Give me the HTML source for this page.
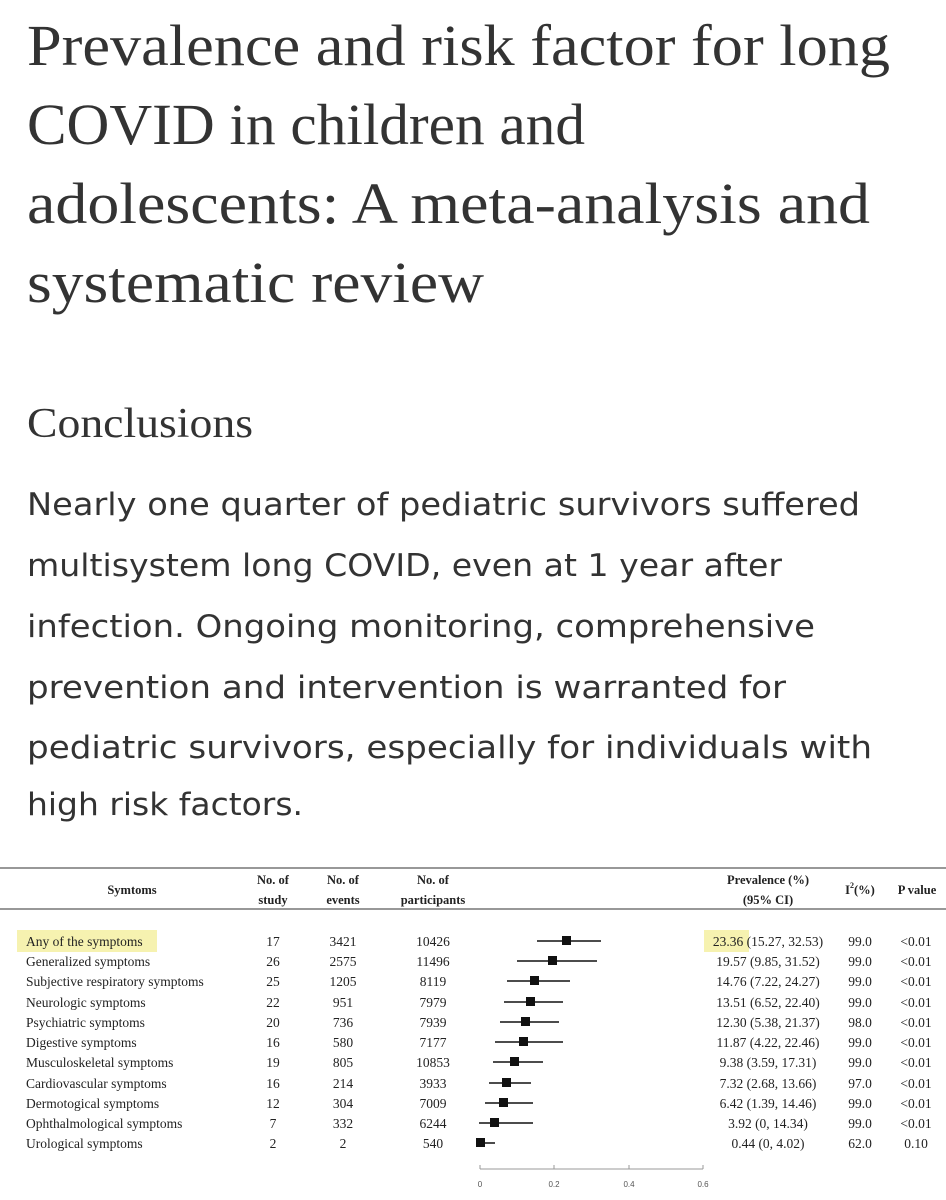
<!DOCTYPE html>
<html><head><meta charset="utf-8"><style>
html,body{margin:0;padding:0;background:#fff;}
svg{display:block;}
.t{font-family:"Liberation Serif","DejaVu Serif",serif;fill:#333;}
.p{font-family:"DejaVu Sans","Liberation Sans",sans-serif;fill:#333;}
.tb{font-family:"Liberation Serif",serif;font-size:13.5px;fill:#222;}
.h{font-family:"Liberation Serif",serif;font-size:12.5px;font-weight:bold;fill:#222;}
</style></head><body>
<svg width="946" height="1200" viewBox="0 0 946 1200" xmlns="http://www.w3.org/2000/svg">
<g class="t" font-size="58">
<text x="27" y="65" textLength="863" lengthAdjust="spacingAndGlyphs">Prevalence and risk factor for long</text>
<text x="27" y="144" textLength="558" lengthAdjust="spacingAndGlyphs">COVID in children and</text>
<text x="27" y="223" textLength="843" lengthAdjust="spacingAndGlyphs">adolescents: A meta-analysis and</text>
<text x="27" y="302" textLength="457" lengthAdjust="spacingAndGlyphs">systematic review</text>
<text x="27" y="437" font-size="42" textLength="226" lengthAdjust="spacingAndGlyphs">Conclusions</text>
</g>
<g class="p" font-size="31">
<text x="27" y="515" textLength="833" lengthAdjust="spacingAndGlyphs">Nearly one quarter of pediatric survivors suffered</text>
<text x="27" y="576" textLength="755" lengthAdjust="spacingAndGlyphs">multisystem long COVID, even at 1 year after</text>
<text x="27" y="637" textLength="788" lengthAdjust="spacingAndGlyphs">infection. Ongoing monitoring, comprehensive</text>
<text x="27" y="698" textLength="759" lengthAdjust="spacingAndGlyphs">prevention and intervention is warranted for</text>
<text x="27" y="758" textLength="845" lengthAdjust="spacingAndGlyphs">pediatric survivors, especially for individuals with</text>
<text x="27" y="815" textLength="276" lengthAdjust="spacingAndGlyphs">high risk factors.</text>
</g>
<line x1="0" y1="868" x2="946" y2="868" stroke="#777" stroke-width="1.5"/>
<line x1="0" y1="909" x2="946" y2="909" stroke="#777" stroke-width="1.5"/>
<g class="h" text-anchor="middle">
<text x="132" y="894">Symtoms</text>
<text x="273" y="884">No. of</text><text x="273" y="904">study</text>
<text x="343" y="884">No. of</text><text x="343" y="904">events</text>
<text x="433" y="884">No. of</text><text x="433" y="904">participants</text>
<text x="768" y="884">Prevalence (%)</text><text x="768" y="904">(95% CI)</text>
<text x="860" y="894">I<tspan font-size="8" dy="-6">2</tspan><tspan dy="6">(%)</tspan></text>
<text x="917" y="894">P value</text>
</g>
<rect x="17" y="930" width="140" height="22" fill="#f6f2b0"/>
<rect x="704" y="930" width="45" height="22" fill="#f6f2b0"/>
<g class="tb">
<text x="26" y="946">Any of the symptoms</text>
<text x="26" y="966">Generalized symptoms</text>
<text x="26" y="986">Subjective respiratory symptoms</text>
<text x="26" y="1007">Neurologic symptoms</text>
<text x="26" y="1027">Psychiatric symptoms</text>
<text x="26" y="1047">Digestive symptoms</text>
<text x="26" y="1067">Musculoskeletal symptoms</text>
<text x="26" y="1088">Cardiovascular symptoms</text>
<text x="26" y="1108">Dermotogical symptoms</text>
<text x="26" y="1128">Ophthalmological symptoms</text>
<text x="26" y="1148">Urological symptoms</text>
</g>
<g class="tb" text-anchor="middle">
<text x="273" y="946">17</text><text x="343" y="946">3421</text><text x="433" y="946">10426</text><text x="768" y="946">23.36 (15.27, 32.53)</text><text x="860" y="946">99.0</text><text x="916" y="946">&lt;0.01</text>
<text x="273" y="966">26</text><text x="343" y="966">2575</text><text x="433" y="966">11496</text><text x="768" y="966">19.57 (9.85, 31.52)</text><text x="860" y="966">99.0</text><text x="916" y="966">&lt;0.01</text>
<text x="273" y="986">25</text><text x="343" y="986">1205</text><text x="433" y="986">8119</text><text x="768" y="986">14.76 (7.22, 24.27)</text><text x="860" y="986">99.0</text><text x="916" y="986">&lt;0.01</text>
<text x="273" y="1007">22</text><text x="343" y="1007">951</text><text x="433" y="1007">7979</text><text x="768" y="1007">13.51 (6.52, 22.40)</text><text x="860" y="1007">99.0</text><text x="916" y="1007">&lt;0.01</text>
<text x="273" y="1027">20</text><text x="343" y="1027">736</text><text x="433" y="1027">7939</text><text x="768" y="1027">12.30 (5.38, 21.37)</text><text x="860" y="1027">98.0</text><text x="916" y="1027">&lt;0.01</text>
<text x="273" y="1047">16</text><text x="343" y="1047">580</text><text x="433" y="1047">7177</text><text x="768" y="1047">11.87 (4.22, 22.46)</text><text x="860" y="1047">99.0</text><text x="916" y="1047">&lt;0.01</text>
<text x="273" y="1067">19</text><text x="343" y="1067">805</text><text x="433" y="1067">10853</text><text x="768" y="1067">9.38 (3.59, 17.31)</text><text x="860" y="1067">99.0</text><text x="916" y="1067">&lt;0.01</text>
<text x="273" y="1088">16</text><text x="343" y="1088">214</text><text x="433" y="1088">3933</text><text x="768" y="1088">7.32 (2.68, 13.66)</text><text x="860" y="1088">97.0</text><text x="916" y="1088">&lt;0.01</text>
<text x="273" y="1108">12</text><text x="343" y="1108">304</text><text x="433" y="1108">7009</text><text x="768" y="1108">6.42 (1.39, 14.46)</text><text x="860" y="1108">99.0</text><text x="916" y="1108">&lt;0.01</text>
<text x="273" y="1128">7</text><text x="343" y="1128">332</text><text x="433" y="1128">6244</text><text x="768" y="1128">3.92 (0, 14.34)</text><text x="860" y="1128">99.0</text><text x="916" y="1128">&lt;0.01</text>
<text x="273" y="1148">2</text><text x="343" y="1148">2</text><text x="433" y="1148">540</text><text x="768" y="1148">0.44 (0, 4.02)</text><text x="860" y="1148">62.0</text><text x="916" y="1148">0.10</text>
</g>
<g stroke="#111" stroke-width="1.6">
<line x1="537" y1="941" x2="601" y2="941"/>
<line x1="517" y1="961" x2="597" y2="961"/>
<line x1="507" y1="981" x2="570" y2="981"/>
<line x1="504" y1="1002" x2="563" y2="1002"/>
<line x1="500" y1="1022" x2="559" y2="1022"/>
<line x1="495" y1="1042" x2="563" y2="1042"/>
<line x1="493" y1="1062" x2="543" y2="1062"/>
<line x1="489" y1="1083" x2="531" y2="1083"/>
<line x1="485" y1="1103" x2="533" y2="1103"/>
<line x1="479" y1="1123" x2="533" y2="1123"/>
<line x1="478" y1="1143" x2="495" y2="1143"/>
</g>
<g fill="#111">
<rect x="562" y="936" width="9" height="9"/>
<rect x="548" y="956" width="9" height="9"/>
<rect x="530" y="976" width="9" height="9"/>
<rect x="526" y="997" width="9" height="9"/>
<rect x="521" y="1017" width="9" height="9"/>
<rect x="519" y="1037" width="9" height="9"/>
<rect x="510" y="1057" width="9" height="9"/>
<rect x="502" y="1078" width="9" height="9"/>
<rect x="499" y="1098" width="9" height="9"/>
<rect x="490" y="1118" width="9" height="9"/>
<rect x="476" y="1138" width="9" height="9"/>
</g>
<g stroke="#999" stroke-width="1">
<line x1="480" y1="1169" x2="703" y2="1169"/>
<line x1="480" y1="1165" x2="480" y2="1169"/>
<line x1="554" y1="1165" x2="554" y2="1169"/>
<line x1="629" y1="1165" x2="629" y2="1169"/>
<line x1="703" y1="1165" x2="703" y2="1169"/>
</g>
<g font-family="Liberation Sans,sans-serif" font-size="8" fill="#555" text-anchor="middle">
<text x="480" y="1187">0</text><text x="554" y="1187">0.2</text><text x="629" y="1187">0.4</text><text x="703" y="1187">0.6</text>
</g>
</svg>
</body></html>
